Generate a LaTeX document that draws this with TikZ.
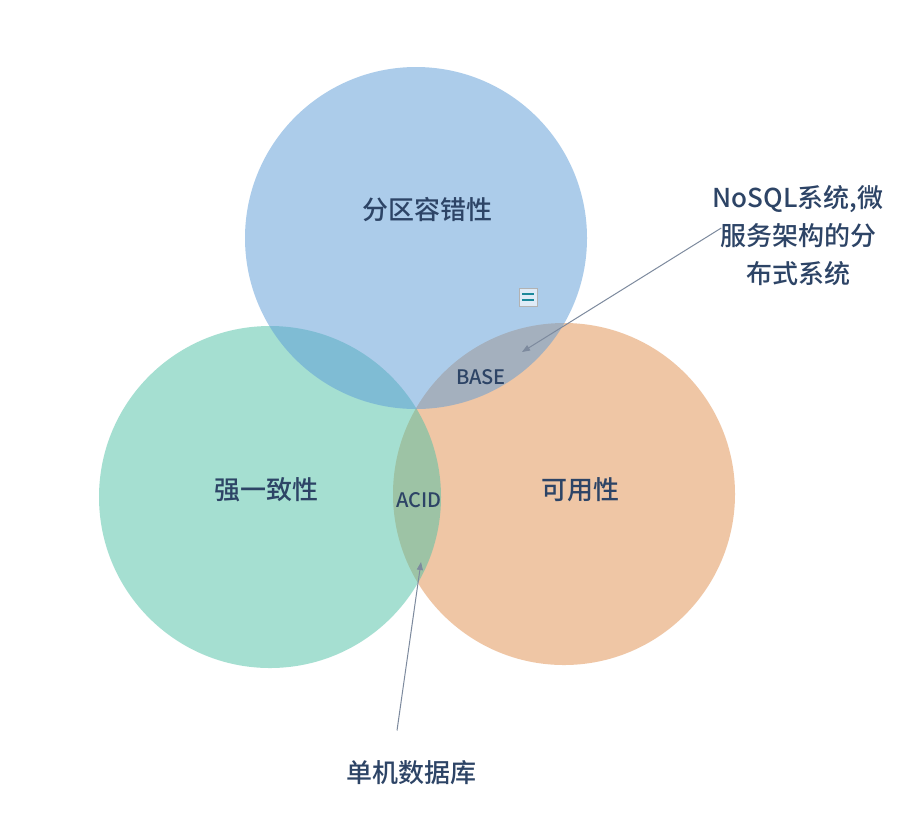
\documentclass[tikz,border=0pt]{standalone}
\usepackage{fontspec}
\setmainfont{Noto Sans CJK SC}[UprightFont={* Medium}]
\usetikzlibrary{
    positioning,      % 相对定位
    arrows.meta       % 箭头样式
}
\definecolor{partblue}{RGB}{91,155,215}
\definecolor{consgreen}{RGB}{77,193,165}
\definecolor{availorange}{RGB}{225,143,77}
\definecolor{labeltext}{RGB}{45,68,102}
\definecolor{pointergray}{RGB}{125,138,158}

\begin{document}
\begin{tikzpicture}[
        x=0.5pt, y=-0.5pt,
        set/.style={
            fill=#1,
            fill opacity=0.5
        },
        setlabel/.style={
            text=labeltext,
            inner sep=0pt,
            font=\fontsize{13pt}{19pt}\selectfont
        },
        lenslabel/.style={
            text=labeltext,
            inner sep=0pt,
            font=\fontsize{10pt}{12pt}\selectfont
        },
        arrow/.style={
            -{Triangle[length=4pt,width=3pt]},
            draw=pointergray,
            line width=0.5pt
        }
    ]
    \useasboundingbox[fill=white] (0,0) rectangle (924,832);

    % 三个集合：可用性最下层，分区容错性最上层
    \fill[set=availorange] (564,494) circle[radius=85.5pt];
    \fill[set=consgreen] (270,497) circle[radius=85.5pt];
    \fill[set=partblue] (416,238) circle[radius=85.5pt];

    % 集合名称
    \node[setlabel] (part) at (427,210) {分区容错性};
    \node[setlabel] (cons) at (266,490) {强一致性};
    \node[setlabel] (avail) at (580,490) {可用性};

    % 交集名称
    \node[lenslabel] (base) at (481,377) {BASE};
    \node[lenslabel] (acid) at (419,500) {ACID};

    % 小图标
    \node[draw=gray!60, fill=partblue!20, line width=0.4pt, minimum size=9pt, inner sep=0pt] (icon) at (528,297) {};
    \draw[teal!70!partblue, line width=1pt] ([shift={(-6,-3)}]icon.center) -- ++(12,0);
    \draw[teal!70!partblue, line width=1pt] ([shift={(-6,3)}]icon.center) -- ++(12,0);

    % 外部标注
    \node[setlabel, align=center] (nosql) at (798,236) {NoSQL系统,微\\服务架构的分\\布式系统};
    \node[setlabel] (single) at (411,773) {单机数据库};

    \coordinate (basetip) at (522,352);
    \coordinate (acidtip) at (421,562);

    % 箭头连接
    \draw[arrow] ([shift={(9,-8)}]nosql.west) -- (basetip);
    \draw[arrow] ([shift={(-14,-30)}]single.north) -- (acidtip);
\end{tikzpicture}
\end{document}
